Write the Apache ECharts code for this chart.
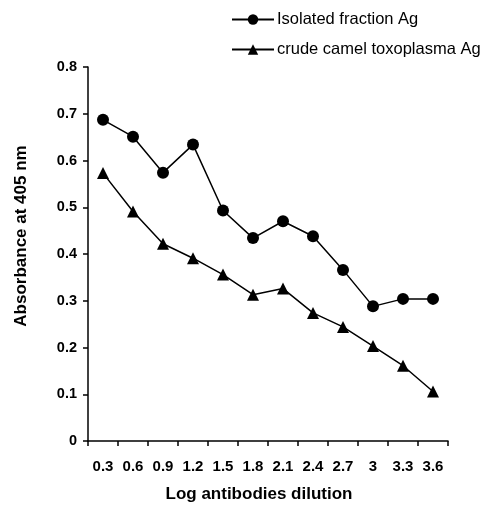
<!DOCTYPE html>
<html><head><meta charset="utf-8">
<script src="https://cdn.jsdelivr.net/npm/echarts@6/dist/echarts.min.js"></script>
<style>html,body{margin:0;padding:0;background:#fff}#c{width:489px;height:508px}</style>
</head><body><div id="c"></div>
<script>
const categories = ['0.3','0.6','0.9','1.2','1.5','1.8','2.1','2.4','2.7','3','3.3','3.6'];
const isolated = [0.687,0.651,0.574,0.634,0.493,0.434,0.470,0.438,0.366,0.288,0.304,0.304];
const crude = [0.573,0.491,0.422,0.391,0.356,0.313,0.326,0.274,0.244,0.203,0.161,0.106];
const seriesNames = ['Isolated fraction Ag','crude camel toxoplasma Ag'];
const yTicks = {min:0, max:0.8, interval:0.1};

const font = 'Liberation Sans, Arial, sans-serif';
const chart = echarts.init(document.getElementById('c'), null, {renderer:'canvas'});
chart.setOption({
  animation:false,
  backgroundColor:'#fff',
  legend:{
    orient:'vertical', left:226, top:6, itemGap:13, itemWidth:42, itemHeight:13,
    textStyle:{fontFamily:font, fontSize:16.5, color:'#000', padding:[0,0,0,-2]},
    data:seriesNames
  },
  grid:{left:88, top:67, width:360, height:374.5, containLabel:false},
  xAxis:{
    type:'category', data:categories, boundaryGap:true,
    name:'Log antibodies dilution', nameLocation:'middle', nameGap:45,
    nameTextStyle:{fontFamily:font, fontSize:17, fontWeight:'bold', color:'#000', padding:[0,18,0,0]},
    axisLine:{lineStyle:{color:'#000', width:1.5}},
    axisTick:{show:true, length:5, inside:false, lineStyle:{color:'#000', width:1.5}},
    axisLabel:{fontFamily:font, fontSize:15, fontWeight:'bold', color:'#000', margin:18},
    splitLine:{show:false}
  },
  yAxis:{
    type:'value', min:yTicks.min, max:yTicks.max, interval:yTicks.interval,
    name:'Absorbance at 405 nm', nameLocation:'middle', nameGap:58, nameRotate:90,
    nameTextStyle:{fontFamily:font, fontSize:17, fontWeight:'bold', color:'#000', padding:[0,0,0,36]},
    axisLine:{show:true, lineStyle:{color:'#000', width:1.5}},
    axisTick:{show:true, length:5, inside:false, lineStyle:{color:'#000', width:1.5}},
    axisLabel:{fontFamily:font, fontSize:14.5, fontWeight:'bold', color:'#000', margin:11},
    splitLine:{show:false}
  },
  series:[
    {name:seriesNames[0], type:'line', data:isolated, symbol:'circle', symbolSize:12,
     lineStyle:{color:'#000', width:1.5}, itemStyle:{color:'#000'}},
    {name:seriesNames[1], type:'line', data:crude, symbol:'triangle', symbolSize:12,
     lineStyle:{color:'#000', width:1.5}, itemStyle:{color:'#000'}}
  ]
});
</script></body></html>
